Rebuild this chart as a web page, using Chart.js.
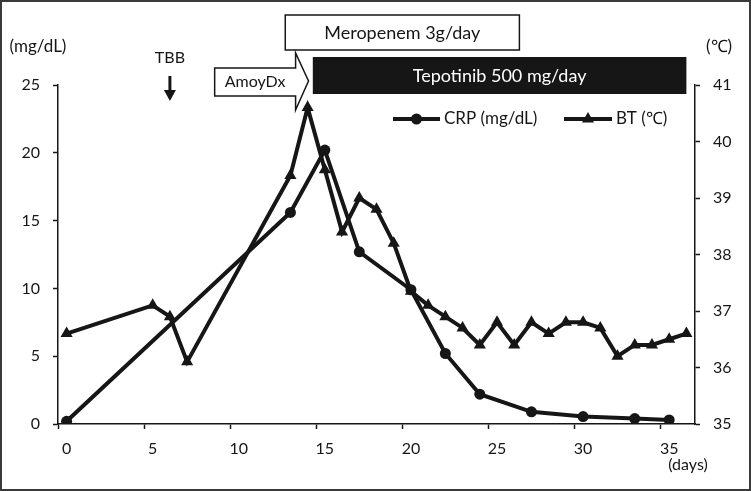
<!DOCTYPE html>
<html>
<head>
<meta charset="utf-8">
<script src="https://cdn.jsdelivr.net/npm/chart.js@4"></script>
<style>
  html, body { margin: 0; padding: 0; background: #fff; }
</style>
</head>
<body>
<canvas id="chart" width="751" height="491"></canvas>
<script>
// days on the x axis (one category per day)
const days = [0, 1, 2, 3, 4, 5, 6, 7, 8, 9, 10, 11, 12, 13, 14, 15, 16, 17, 18,
  19, 20, 21, 22, 23, 24, 25, 26, 27, 28, 29, 30, 31, 32, 33, 34, 35, 36];

// CRP (mg/dL), left axis
const crpDays = [0, 13, 15, 17, 20, 22, 24, 27, 30, 33, 35];
const crpValues = [0.2, 15.6, 20.2, 12.7, 9.9, 5.2, 2.2, 0.9, 0.55, 0.4, 0.3];

// body temperature (°C), right axis
const btDays = [0, 5, 6, 7, 13, 14, 15, 16, 17, 18, 19, 20, 21, 22, 23, 24, 25,
  26, 27, 28, 29, 30, 31, 32, 33, 34, 35, 36];
const btValues = [36.6, 37.1, 36.9, 36.1, 39.4, 40.6, 39.5, 38.4, 39.0, 38.8,
  38.2, 37.35, 37.1, 36.9, 36.7, 36.4, 36.8, 36.4, 36.8, 36.6, 36.8, 36.8, 36.7,
  36.2, 36.4, 36.4, 36.5, 36.6];

const ink = '#161616';
const fontName = 'Lato, "Open Sans", sans-serif';

// frame, treatment boxes, arrows, unit labels and legend
const annotations = {
  id: 'annotations',
  beforeDatasetsDraw(chart) {
    const ctx = chart.ctx;
    const x = chart.scales.x;
    const px = d => x.getPixelForValue(d);

    ctx.save();
    ctx.strokeStyle = '#3a3a3a';
    ctx.lineWidth = 2;
    ctx.strokeRect(1, 1, 749, 489);

    ctx.textAlign = 'center';
    ctx.textBaseline = 'middle';
    ctx.lineWidth = 1.5;
    ctx.strokeStyle = ink;

    // Meropenem
    let l = px(12.7), r = px(26.3);
    ctx.fillStyle = '#fff';
    ctx.fillRect(l, 15, r - l, 35);
    ctx.strokeRect(l, 15, r - l, 35);
    ctx.fillStyle = ink;
    ctx.font = '18px ' + fontName;
    ctx.fillText('Meropenem 3g/day', (l + r) / 2, 33);

    // Tepotinib
    l = px(14.3); r = px(36);
    ctx.fillStyle = ink;
    ctx.fillRect(l, 57, r - l, 37);
    ctx.fillStyle = '#fff';
    ctx.fillText('Tepotinib 500 mg/day', (l + r) / 2, 76);

    // AmoyDx arrow
    const a0 = px(8.6), a1 = px(13.3), a2 = px(14.05);
    ctx.beginPath();
    ctx.moveTo(a0, 68);
    ctx.lineTo(a1, 68);
    ctx.lineTo(a1, 53);
    ctx.lineTo(a2, 81);
    ctx.lineTo(a1, 110);
    ctx.lineTo(a1, 96);
    ctx.lineTo(a0, 96);
    ctx.closePath();
    ctx.fillStyle = '#fff';
    ctx.fill();
    ctx.stroke();
    ctx.fillStyle = ink;
    ctx.font = '16px ' + fontName;
    ctx.fillText('AmoyDx', (a0 + a1) / 2, 82);

    // TBB
    const t = px(6);
    ctx.fillText('TBB', t, 58);
    ctx.lineWidth = 3;
    ctx.beginPath();
    ctx.moveTo(t, 76);
    ctx.lineTo(t, 92);
    ctx.stroke();
    ctx.beginPath();
    ctx.moveTo(t - 6, 90);
    ctx.lineTo(t + 6, 90);
    ctx.lineTo(t, 101);
    ctx.closePath();
    ctx.fill();

    // unit labels
    ctx.font = '17px ' + fontName;
    ctx.fillText('(mg/dL)', 38, 47);
    ctx.fillText('(℃)', 719, 47);
    ctx.font = '16px ' + fontName;
    ctx.fillText('(days)', 688, 465);

    // legend
    ctx.font = '17px ' + fontName;
    ctx.textAlign = 'left';
    const items = [
      { ds: chart.data.datasets[0], x0: 393, x1: 440 },
      { ds: chart.data.datasets[1], x0: 564, x1: 612 }
    ];
    items.forEach(it => {
      const y = 119;
      ctx.strokeStyle = it.ds.borderColor;
      ctx.lineWidth = it.ds.borderWidth;
      ctx.beginPath();
      ctx.moveTo(it.x0, y);
      ctx.lineTo(it.x1, y);
      ctx.stroke();
      ctx.fillStyle = it.ds.pointBackgroundColor;
      Chart.helpers.drawPoint(ctx, {
        pointStyle: it.ds.pointStyle,
        radius: it.ds.pointRadius,
        borderWidth: 0,
        rotation: 0
      }, (it.x0 + it.x1) / 2, y);
      ctx.fillStyle = ink;
      ctx.fillText(it.ds.label, it.x1 + 4, y);
    });
    ctx.restore();
  }
};

new Chart(document.getElementById('chart'), {
  type: 'line',
  data: {
    labels: days,
    datasets: [{
      label: 'CRP (mg/dL)',
      data: crpDays.map((d, i) => ({ x: d, y: crpValues[i] })),
      yAxisID: 'y',
      borderColor: ink,
      borderWidth: 4,
      pointStyle: 'circle',
      pointRadius: 5.5,
      pointBackgroundColor: ink,
      pointBorderWidth: 0,
      tension: 0
    }, {
      label: 'BT (℃)',
      data: btDays.map((d, i) => ({ x: d, y: btValues[i] })),
      yAxisID: 'y2',
      borderColor: ink,
      borderWidth: 4,
      pointStyle: 'triangle',
      pointRadius: 7,
      pointBackgroundColor: ink,
      pointBorderWidth: 0,
      tension: 0
    }]
  },
  options: {
    responsive: false,
    animation: false,
    devicePixelRatio: 1,
    layout: { padding: { top: 85, left: 0, right: 0, bottom: 0 } },
    plugins: { legend: { display: false }, tooltip: { enabled: false } },
    scales: {
      x: {
        type: 'category',
        offset: true,
        grid: {
          offset: true,
          drawOnChartArea: false,
          tickLength: 5,
          tickWidth: 1.5,
          tickColor: c => (c.index % 5 === 0 ? ink : 'rgba(0,0,0,0)')
        },
        border: { color: ink, width: 1.5 },
        ticks: {
          autoSkip: false,
          maxRotation: 0,
          padding: 10,
          color: ink,
          font: { family: fontName, size: 16 },
          callback: (v, i) => (i % 5 === 0 ? String(days[i]) : '')
        },
        afterFit: s => { s.height = 67; }
      },
      y: {
        position: 'left',
        min: 0,
        max: 25,
        grid: { drawOnChartArea: false, tickLength: 5, tickWidth: 1.5, tickColor: ink },
        border: { color: ink, width: 1.5 },
        ticks: { stepSize: 5, padding: 13, color: ink, font: { family: fontName, size: 16 } },
        afterFit: s => { s.width = 58; }
      },
      y2: {
        position: 'right',
        min: 35,
        max: 41,
        grid: { drawOnChartArea: false, tickLength: 5, tickWidth: 1.5, tickColor: ink },
        border: { color: ink, width: 1.5 },
        ticks: { stepSize: 1, padding: 13, color: ink, font: { family: fontName, size: 16 } },
        afterFit: s => { s.width = 56; }
      }
    }
  },
  plugins: [annotations]
});
</script>
</body>
</html>
